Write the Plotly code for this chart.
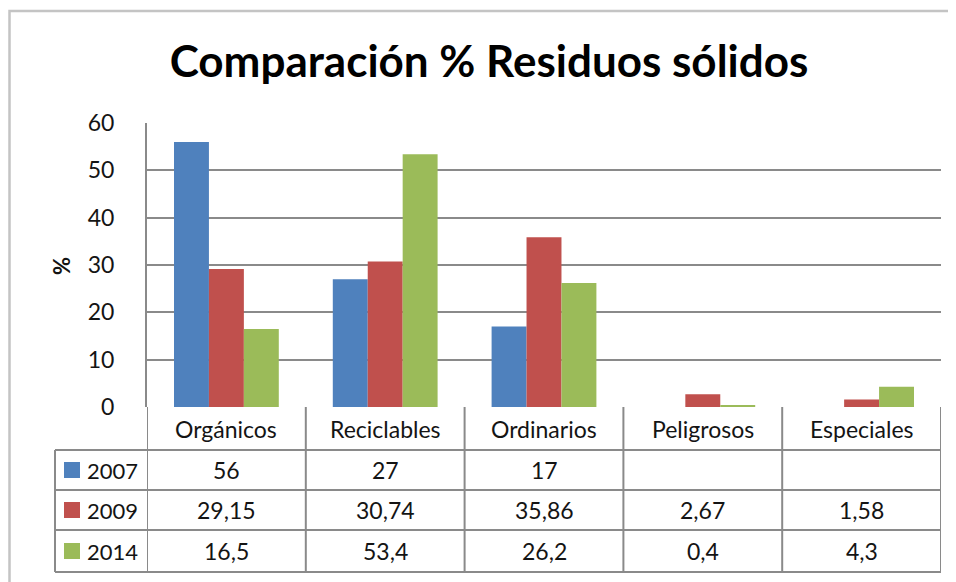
import plotly.graph_objects as go

categories = ["Orgánicos", "Reciclables", "Ordinarios", "Peligrosos", "Especiales"]
years = ["2007", "2009", "2014"]
v2007 = [56, 27, 17, None, None]
v2009 = [29.15, 30.74, 35.86, 2.67, 1.58]
v2014 = [16.5, 53.4, 26.2, 0.4, 4.3]
y_ticks = [0, 10, 20, 30, 40, 50, 60]

series = [v2007, v2009, v2014]
colors = ["#4F81BD", "#C0504D", "#9BBB59"]

FONT = "Lato"
W, H = 956, 582
OFF = 8  # default page body margin
L, R, T, B = 147, 941, 123, 407  # page pixel positions of the plot area
PW, PH = R - L, B - T


def px(p):
    return (p - L) / PW


def py(p):
    return (B - p) / PH


def fmt(v):
    if v is None:
        return ""
    return f"{v:g}".replace(".", ",")


fig = go.Figure()
for name, vals, col in zip(years, series, colors):
    fig.add_trace(go.Bar(x=categories, y=vals, name=name, marker=dict(color=col, line=dict(width=0)),
                         showlegend=False))

shapes = []
annotations = []
line_col = "#8a8a8a"
txt_col = "#141414"

# Outer chart frame
shapes.append(dict(type="rect", xref="paper", yref="paper", x0=px(9.5), x1=px(1000), y0=py(11), y1=py(700),
                   line=dict(color="#c4c4c4", width=2.5), layer="below"))

# Table lines
for yy in [450, 490, 530, 572]:
    shapes.append(dict(type="line", xref="paper", yref="paper", x0=px(55), x1=px(R), y0=py(yy), y1=py(yy),
                       line=dict(color=line_col, width=2)))
shapes.append(dict(type="line", xref="paper", yref="paper", x0=px(55), x1=px(55), y0=py(450), y1=py(572),
                   line=dict(color=line_col, width=2)))
for i in range(len(categories) + 1):
    shapes.append(dict(type="line", xref="x", yref="paper", x0=i - 0.5, x1=i - 0.5, y0=py(B), y1=py(572),
                       line=dict(color=line_col, width=2)))

# header labels
for c in categories:
    annotations.append(dict(x=c, xref="x", y=py(429), yref="paper", text=c, showarrow=False,
                            xanchor="center", yanchor="middle",
                            font=dict(family=FONT, size=23, color=txt_col)))

row_centers = [470, 510, 551]
for yr, vals, col, yc in zip(years, series, colors, row_centers):
    shapes.append(dict(type="rect", xref="paper", yref="paper", x0=px(64), x1=px(80),
                       y0=py(yc - 8), y1=py(yc + 8), line=dict(width=0), fillcolor=col))
    annotations.append(dict(x=px(85), xref="paper", y=py(yc), yref="paper", text=yr, showarrow=False,
                            xanchor="left", yanchor="middle",
                            font=dict(family=FONT, size=22, color=txt_col)))
    for c, v in zip(categories, vals):
        annotations.append(dict(x=c, xref="x", y=py(yc), yref="paper", text=fmt(v), showarrow=False,
                                xanchor="center", yanchor="middle",
                                font=dict(family=FONT, size=23, color=txt_col)))

# y-axis title
annotations.append(dict(x=px(61), xref="paper", y=py(266), yref="paper", text="<b>%</b>", textangle=-90,
                        showarrow=False, xanchor="center", yanchor="middle",
                        font=dict(family=FONT, size=22, color=txt_col)))

fig.update_layout(
    width=W, height=H,
    margin=dict(l=L - OFF, r=W + OFF - R, t=T - OFF, b=H + OFF - B, autoexpand=False),
    paper_bgcolor="white", plot_bgcolor="white",
    barmode="group", bargap=0.34, bargroupgap=0,
    title=dict(text="<b>Comparación % Residuos sólidos</b>", x=(489 - OFF) / W, xanchor="center",
               y=1 - (62 - OFF) / H, yanchor="middle", yref="container",
               font=dict(family=FONT, size=44, color="black")),
    xaxis=dict(range=[-0.5, len(categories) - 0.5], showticklabels=False, showgrid=False, zeroline=False,
               showline=False, ticks=""),
    yaxis=dict(range=[0, 60], tickvals=y_ticks, showgrid=True, gridcolor=line_col, gridwidth=2,
               zeroline=False, showline=True, linecolor=line_col, linewidth=2, ticks="",
               tickfont=dict(family=FONT, size=23, color=txt_col), ticklabelstandoff=26),
    shapes=shapes,
    annotations=annotations,
)

fig.write_html("out.html")
